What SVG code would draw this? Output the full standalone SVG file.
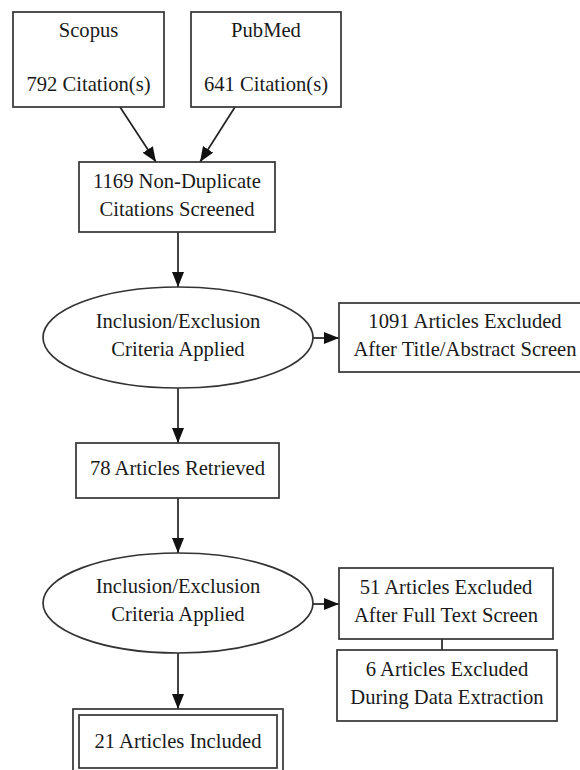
<svg xmlns="http://www.w3.org/2000/svg" width="580" height="770" viewBox="0 0 580 770">
  <defs>
    <marker id="arrow" markerUnits="userSpaceOnUse" markerWidth="16" markerHeight="12" refX="15" refY="6" orient="auto">
      <path d="M0,0 L15,6 L0,12 z" fill="#111"/>
    </marker>
    <style>
      .node rect, .node ellipse { fill: #fff; stroke: #333; stroke-width: 1.7; }
      .node text { font-family: "Liberation Serif", "Times New Roman", serif; font-size: 20.6px; fill: #1a1a1a; text-anchor: middle; }
      .edge { stroke: #222; stroke-width: 1.7; fill: none; }
      .edge.arrowed { marker-end: url(#arrow); }
    </style>
  </defs>
  <rect width="580" height="770" fill="#fff"/>

  <!-- connectors -->
  <g id="edges">
    <line class="edge arrowed" x1="120" y1="107" x2="156" y2="162"/>
    <line class="edge arrowed" x1="235" y1="107" x2="200" y2="162"/>
    <line class="edge arrowed" x1="178" y1="232" x2="178" y2="287"/>
    <line class="edge arrowed" x1="313" y1="338" x2="339" y2="338"/>
    <line class="edge arrowed" x1="178" y1="388" x2="178" y2="443"/>
    <line class="edge arrowed" x1="178" y1="498" x2="178" y2="553"/>
    <line class="edge arrowed" x1="313" y1="604" x2="339" y2="604"/>
    <line class="edge" x1="442" y1="639" x2="442" y2="650"/>
    <line class="edge arrowed" x1="178" y1="653" x2="178" y2="709"/>
  </g>

  <g id="scopus" class="node">
    <rect x="13" y="12" width="151" height="95"/>
    <text x="88.5" y="37">Scopus</text>
    <text x="88.5" y="91">792 Citation(s)</text>
  </g>

  <g id="pubmed" class="node">
    <rect x="191" y="12" width="150" height="95"/>
    <text x="266" y="37">PubMed</text>
    <text x="266" y="91">641 Citation(s)</text>
  </g>

  <g id="screened" class="node">
    <rect x="79" y="162" width="196" height="70"/>
    <text x="177" y="188">1169 Non-Duplicate</text>
    <text x="177" y="216">Citations Screened</text>
  </g>

  <g id="criteria1" class="node">
    <ellipse cx="178" cy="337.5" rx="135" ry="50.5"/>
    <text x="178" y="328">Inclusion/Exclusion</text>
    <text x="178" y="356">Criteria Applied</text>
  </g>

  <g id="excluded-title" class="node">
    <rect x="339" y="303" width="252" height="69"/>
    <text x="465" y="328">1091 Articles Excluded</text>
    <text x="465" y="356">After Title/Abstract Screen</text>
  </g>

  <g id="retrieved" class="node">
    <rect x="76" y="443" width="203" height="55"/>
    <text x="177.5" y="475">78 Articles Retrieved</text>
  </g>

  <g id="criteria2" class="node">
    <ellipse cx="178" cy="603" rx="135" ry="50"/>
    <text x="178" y="593">Inclusion/Exclusion</text>
    <text x="178" y="621">Criteria Applied</text>
  </g>

  <g id="excluded-fulltext" class="node">
    <rect x="339" y="568" width="214" height="71"/>
    <text x="446" y="594">51 Articles Excluded</text>
    <text x="446" y="622">After Full Text Screen</text>
  </g>

  <g id="excluded-extraction" class="node">
    <rect x="337" y="650" width="220" height="71"/>
    <text x="447" y="676">6 Articles Excluded</text>
    <text x="447" y="704">During Data Extraction</text>
  </g>

  <g id="included" class="node">
    <rect x="73" y="709" width="210" height="70"/>
    <rect x="79" y="715" width="198" height="53"/>
    <text x="178" y="748">21 Articles Included</text>
  </g>
</svg>
